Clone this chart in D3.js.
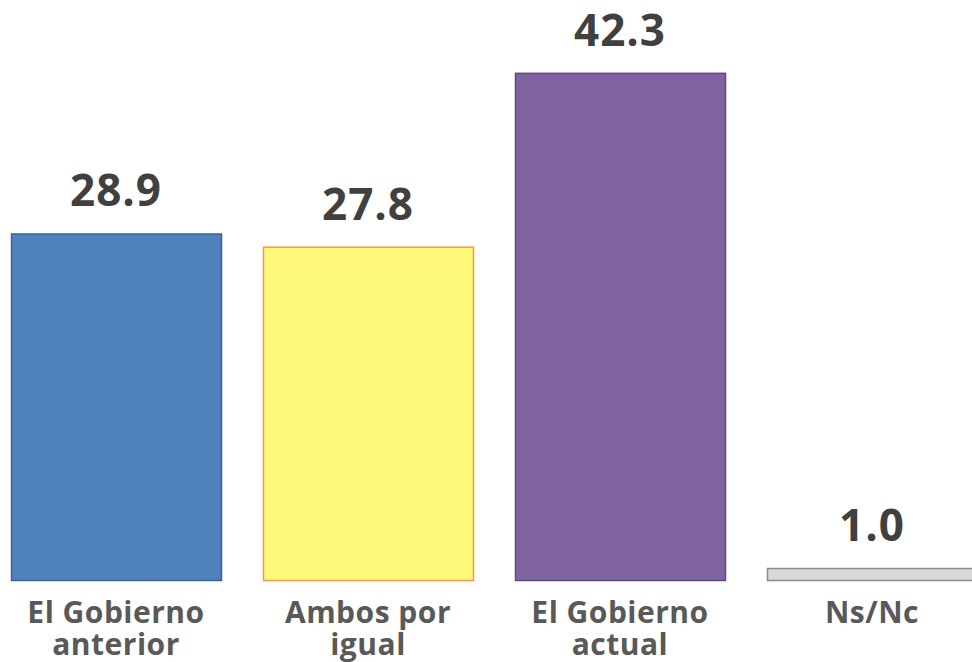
<!DOCTYPE html>
<html>
<head>
<meta charset="utf-8">
<script src="https://cdn.jsdelivr.net/npm/d3@7"></script>
<style>
  html, body { margin: 0; padding: 0; background: #fff; overflow: hidden; }
  svg { display: block; font-family: 'Open Sans', sans-serif; }
</style>
</head>
<body>
<div id="chart"></div>
<script>
const categories = [['El Gobierno', 'anterior'], ['Ambos por', 'igual'], ['El Gobierno', 'actual'], ['Ns/Nc']]
const values = [28.9, 27.8, 42.3, 1.0]
const fills = ['#4F81BD', '#FFF97A', '#8064A2', '#D9D9D9']
const strokes = ['#3A6396', '#F79646', '#5F4A7E', '#8C8C8C']

const width = 972
const height = 662
const baseline = 580

const svg = d3.select('#chart').append('svg')
    .attr('width', width)
    .attr('height', height)

const xScale = d3.scaleBand()
    .domain(d3.range(values.length))
    .range([-10, 998])
    .paddingInner(1 / 6)
    .paddingOuter(1 / 12)

const yScale = d3.scaleLinear()
    .domain([0, 45])
    .range([baseline, baseline - 45 * 11.99])

svg.append('g').selectAll('rect')
    .data(values)
    .enter()
    .append('rect')
    .attr('x', (d, i) => xScale(i) + 0.5)
    .attr('y', d => yScale(d) + 0.5)
    .attr('width', xScale.bandwidth())
    .attr('height', d => baseline - yScale(d))
    .attr('fill', (d, i) => fills[i])
    .attr('stroke', (d, i) => strokes[i])
    .attr('stroke-width', 1.5)

// value labels above bars
svg.append('g').selectAll('text')
    .data(values)
    .enter()
    .append('text')
    .attr('x', (d, i) => xScale(i) + xScale.bandwidth() / 2)
    .attr('y', d => yScale(d) - 27)
    .attr('text-anchor', 'middle')
    .attr('fill', '#404040')
    .attr('font-size', 44)
    .attr('font-weight', 700)
    .attr('letter-spacing', 1)
    .text(d => d.toFixed(1))

// category labels
const catG = svg.append('g').selectAll('text')
    .data(categories)
    .enter()
    .append('text')
    .attr('x', (d, i) => xScale(i) + xScale.bandwidth() / 2)
    .attr('y', 623)
    .attr('text-anchor', 'middle')
    .attr('fill', '#595959')
    .attr('font-size', 30)
    .attr('font-weight', 700)
    .attr('letter-spacing', 0.5)

catG.selectAll('tspan')
    .data(d => d)
    .enter()
    .append('tspan')
    .attr('x', function () { return d3.select(this.parentNode).attr('x') })
    .attr('dy', (d, i) => i === 0 ? 0 : 32)
    .text(d => d)
</script>
</body>
</html>
